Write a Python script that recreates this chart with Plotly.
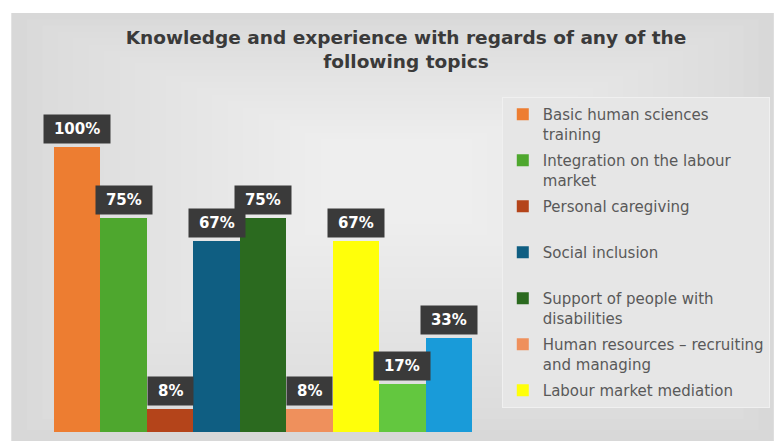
import plotly.graph_objects as go

# Survey results: share of respondents with knowledge/experience per topic
topics = [
    "Basic human sciences<br>training",
    "Integration on the labour<br>market",
    "Personal caregiving<br> ",
    "Social inclusion<br> ",
    "Support of people with<br>disabilities",
    "Human resources – recruiting<br>and managing",
    "Labour market mediation",
    None,
    None,
]
values = [100, 75, 8, 67, 75, 8, 67, 17, 33]
colors = ["#ED7D31", "#4EA72E", "#B4441A", "#0F5E82", "#2B6A1F",
          "#EF905C", "#FFFF0A", "#63C73F", "#199BD9"]
positions = list(range(len(values)))

W, H = 779, 441
ML, MR, MT, MB = 54, 304, 100, 9
PW, PH = W - ML - MR, H - MT - MB
YMAX = 116.5


def px_x(px):
    return (px - ML) / PW


def px_y(py):
    return (H - MB - py) / PH


fig = go.Figure()
for i, (name, v, c) in enumerate(zip(topics, values, colors)):
    fig.add_trace(go.Bar(
        x=[positions[i]], y=[v], name=name if name else f"Topic {i + 1}",
        marker=dict(color=c, line=dict(width=0)),
        showlegend=name is not None,
        legendgroup=f"g{i}",
        hovertemplate="%{y}%<extra></extra>",
    ))

# dark value tags sitting on top of each bar
for i, v in enumerate(values):
    label = f"{v}%"
    tw = sum(15.0 if ch == "%" else 10.4 for ch in label)
    fig.add_annotation(
        x=positions[i], y=v, xref="x", yref="y",
        text=f"<b>{label}</b>", showarrow=False,
        yanchor="bottom", yshift=3,
        font=dict(family="DejaVu Sans", size=15, color="white"),
        bgcolor="#3a3a3a", borderpad=5, width=tw + 10,
    )

# panel background with a soft vignette
shapes = [dict(type="rect", xref="paper", yref="paper",
               x0=px_x(11), x1=px_x(W), y0=px_y(H), y1=px_y(13),
               fillcolor="#d6d6d6", line=dict(width=0), layer="below")]
N = 24
cx, cy = 400, 170
for k in range(N):
    t = 0.96 * k / N
    shapes.append(dict(
        type="rect", xref="paper", yref="paper",
        x0=px_x(11 + t * (cx - 11)), x1=px_x(W - t * (W - cx)),
        y0=px_y(H - t * (H - cy)), y1=px_y(13 + t * (cy - 13)),
        fillcolor="white", opacity=0.055, line=dict(width=0), layer="below"))

fig.update_layout(
    width=W, height=H,
    margin=dict(l=ML, r=MR, t=MT, b=MB),
    paper_bgcolor="white", plot_bgcolor="rgba(0,0,0,0)",
    barmode="relative", bargap=0,
    shapes=shapes,
    title=dict(
        text="<b>Knowledge and experience with regards of any of the<br>following topics</b>",
        x=406 / W, xref="container", xanchor="center",
        y=1 - 44 / H, yref="container", yanchor="top",
        font=dict(family="DejaVu Sans", size=18.5, color="#3a3a3a"),
    ),
    xaxis=dict(visible=False, range=[-0.5, len(values) - 0.5]),
    yaxis=dict(visible=False, range=[0, YMAX]),
    legend=dict(
        x=px_x(505), y=px_y(97), xanchor="left", yanchor="top",
        font=dict(family="DejaVu Sans", size=15, color="#595959"),
        bgcolor="#e6e6e6", bordercolor="#f0f0f0", borderwidth=1,
        tracegroupgap=4, valign="top", traceorder="grouped",
        maxheight=340,
    ),
    showlegend=True,
)

fig.write_html("out.html")
